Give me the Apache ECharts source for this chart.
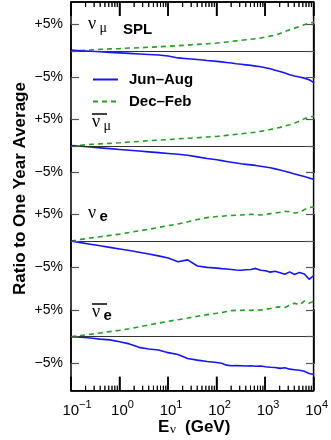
<!DOCTYPE html>
<html>
<head>
<meta charset="utf-8">
<script src="https://cdn.jsdelivr.net/npm/echarts@6/dist/echarts.min.js"></script>
<style>html,body{margin:0;padding:0;background:#fff}#chart{width:331px;height:440px}</style>
</head>
<body>
<div id="chart"></div>
<script>
// neutrino energy (GeV)
const energies = [0.1, 0.158, 0.251, 0.398, 0.631, 1, 1.585, 2.512, 3.981, 6.31, 10, 15.85, 25.12, 39.81, 63.1,
  100, 125.9, 158.5, 199.5, 251.2, 316.2, 398.1, 501.2, 631, 794.3, 1000, 1259, 1585, 1995, 2512, 3162, 3981, 5012, 6310, 7943, 10000];

// ratio to one year average (%), per flavour
const numuJun = [0.2, 0.05, -0.05, -0.15, -0.25, -0.35, -0.45, -0.55, -0.65, -0.75, -0.95, -1.3, -1.45, -1.6, -1.8,
  -1.95, -2.05, -2.15, -2.25, -2.4, -2.5, -2.6, -2.7, -2.85, -2.95, -3.15, -3.35, -3.6, -3.85, -4.15, -4.45, -4.7, -4.9, -5.1, -5.4, -5.95];
const numuDec = [0, 0.1, 0.2, 0.3, 0.4, 0.45, 0.55, 0.6, 0.7, 0.8, 0.9, 1.0, 1.1, 1.25, 1.35,
  1.5, 1.6, 1.7, 1.8, 1.9, 2.0, 2.1, 2.2, 2.3, 2.45, 2.6, 2.8, 3.0, 3.3, 3.65, 4.0, 4.3, 4.6, 4.95, 5.25, 5.4];
const numubarJun = [0.1, -0.05, -0.2, -0.35, -0.5, -0.65, -0.8, -0.95, -1.1, -1.25, -1.4, -1.55, -1.75, -2.05, -2.35,
  -2.6, -2.75, -2.9, -3.05, -3.2, -3.35, -3.45, -3.55, -3.65, -3.8, -3.95, -4.1, -4.3, -4.5, -4.75, -5.0, -5.25, -5.5, -5.75, -6.0, -6.3];
const numubarDec = [0, 0.15, 0.3, 0.4, 0.5, 0.6, 0.75, 0.85, 1.0, 1.1, 1.2, 1.35, 1.45, 1.55, 1.7,
  1.8, 1.9, 2.0, 2.1, 2.2, 2.3, 2.4, 2.5, 2.6, 2.75, 2.9, 3.1, 3.3, 3.5, 3.75, 4.0, 4.3, 4.7, 5.1, 5.45, 5.6];
const nueJun = [0, -0.3, -0.6, -0.9, -1.2, -1.5, -1.8, -2.1, -2.45, -2.8, -3.2, -3.9, -3.55, -4.7, -4.95,
  -5.1, -5.2, -5.25, -5.35, -5.45, -5.5, -5.4, -5.35, -5.15, -5.5, -5.6, -5.85, -5.7, -5.95, -6.25, -5.8, -6.3, -5.9, -6.2, -7.2, -6.45];
const nueDec = [0, 0.3, 0.55, 0.8, 1.05, 1.3, 1.6, 1.9, 2.2, 2.55, 2.9, 3.2, 3.6, 4.05, 4.4,
  4.6, 4.65, 4.75, 4.8, 4.85, 4.9, 4.95, 5.0, 4.95, 4.9, 5.0, 5.15, 5.25, 5.4, 5.6, 5.5, 5.25, 5.4, 5.9, 6.3, 6.4];
const nuebarJun = [0, -0.1, -0.25, -0.45, -0.6, -0.95, -1.35, -2.0, -2.3, -2.5, -3.0, -3.35, -4.1, -4.4, -4.65,
  -4.85, -5.0, -5.35, -5.45, -5.4, -5.45, -5.5, -5.45, -5.55, -5.5, -5.65, -5.75, -5.8, -5.95, -5.85, -6.1, -6.2, -6.3, -6.5, -6.9, -7.1];
const nuebarDec = [0, 0.2, 0.45, 0.7, 0.95, 1.2, 1.5, 1.85, 2.2, 2.55, 2.9, 3.2, 3.5, 3.85, 4.15,
  4.4, 4.55, 4.75, 4.9, 4.95, 4.95, 5.0, 4.95, 5.05, 5.0, 5.15, 5.3, 5.5, 5.6, 5.5, 5.9, 6.3, 6.0, 6.7, 6.3, 6.7];

const seasons = ['Jun–Aug', 'Dec–Feb'];
const decades = [0.1, 1, 10, 100, 1000, 10000];
const exponents = ['−1', '0', '1', '2', '3', '4'];

const panels = [[numuJun, numuDec], [numubarJun, numubarDec], [nueJun, nueDec], [nuebarJun, nuebarDec]];

const chart = echarts.init(document.getElementById('chart'));
const font = 'Liberation Sans';
const serif = 'Liberation Serif';
const pxPerPct = 5.32;
const zeros = [51, 146, 241, 336.7];
const frameTop = 2, frameBottom = 390.7;

const minors = [];
decades.slice(0, -1).forEach(d => { for (let k = 2; k < 10; k++) minors.push(d * k); });

function frameX(pos, labels) {
  return {
    gridIndex: 0, type: 'log', logBase: 10, min: 0.1, max: 10000, position: pos, z: 10,
    axisLine: {show: true, onZero: false, lineStyle: {color: '#000', width: 1.5}},
    axisTick: {show: true, inside: true, length: 14, lineStyle: {color: '#000', width: 1.5}},
    axisLabel: labels ? {
      show: true, margin: 9,
      formatter: v => {
        const e = exponents[decades.findIndex(d => Math.abs(d - v) / d < 1e-6)] || '';
        return '{' + (e.length > 1 ? 'w' : 'b') + '|10}{s|' + e + '}';
      },
      rich: {
        b: {fontFamily: font, fontSize: 15, color: '#000', padding: [0, 0, 0, 6]},
        w: {fontFamily: font, fontSize: 15, color: '#000', padding: [0, 0, 0, 12]},
        s: {fontFamily: font, fontSize: 11, color: '#000', padding: [0, 0, 11, 0]}
      }
    } : {show: false},
    splitLine: {show: false}
  };
}

const grids = [{left: 71, right: 17, top: frameTop, height: frameBottom - frameTop, show: true,
  borderColor: '#000', borderWidth: 1.5, backgroundColor: 'transparent'}];
const xAxes = [frameX('bottom', true), frameX('top', false)];
const yAxes = [{gridIndex: 0, type: 'value', min: 0, max: 1, show: false}];
const series = [];

// minor ticks of the log axis, bottom and top of the frame
[[0, -2.5], [1, 2.5]].forEach(([edge, off]) => {
  series.push({
    type: 'scatter', xAxisIndex: 0, yAxisIndex: 0, data: minors.map(d => [d, edge]), clip: false,
    symbol: 'rect', symbolSize: [1, 5], symbolOffset: [0, off], itemStyle: {color: '#000'}, z: 5
  });
});

// each panel: a grid spanning -5%..+5%, lines allowed to run beyond it
panels.forEach((p, i) => {
  grids.push({left: 71, right: 17, top: zeros[i] - 5 * pxPerPct, height: 10 * pxPerPct});
  xAxes.push({gridIndex: i + 1, type: 'log', logBase: 10, min: 0.1, max: 10000, show: false});
  const yCommon = {
    gridIndex: i + 1, type: 'value', min: -5, max: 5, interval: 5, z: 10,
    axisLine: {show: true, onZero: false, lineStyle: {color: '#000', width: 1.5}}, splitLine: {show: false},
    axisTick: {show: true, inside: true, length: 8, lineStyle: {color: '#555', width: 1.2}}
  };
  yAxes.push(Object.assign({}, yCommon, {
    position: 'left',
    axisLabel: {show: true, margin: 8, color: '#000', fontFamily: font, fontSize: 14,
      formatter: v => v > 0 ? '+5%' : v < 0 ? '−5%' : ''}
  }));
  yAxes.push(Object.assign({}, yCommon, {position: 'right', axisLabel: {show: false}}));
  const xi = 2 + i, yi = 1 + 2 * i;
  series.push({
    name: seasons[0], type: 'line', xAxisIndex: xi, yAxisIndex: yi, clip: false,
    data: energies.map((e, k) => [e, p[0][k]]),
    symbol: 'none', lineStyle: {color: '#1515ff', width: 1.6}, itemStyle: {color: '#1515ff'},
    markLine: {silent: true, symbol: ['none', 'none'], label: {show: false},
      lineStyle: {color: '#333', width: 1, type: 'solid'}, data: [{yAxis: 0}], animation: false},
    z: 3
  });
  series.push({
    name: seasons[1], type: 'line', xAxisIndex: xi, yAxisIndex: yi, clip: false,
    data: energies.map((e, k) => [e, p[1][k]]),
    symbol: 'none', lineStyle: {color: '#22a022', width: 1.6, type: [5, 4]}, itemStyle: {color: '#22a022'},
    z: 2
  });
});

function nuLabel(x, y, sub, subFont, bar) {
  const els = [
    {type: 'text', x: x, y: y, style: {text: 'ν', font: '18px ' + serif, fill: '#000', verticalAlign: 'middle'}},
    {type: 'text', x: x + 11.5, y: y + 4, style: {text: sub, font: subFont, fill: '#000', verticalAlign: 'middle'}}
  ];
  if (bar) els.push({type: 'line', shape: {x1: x, y1: y - 8, x2: x + 15, y2: y - 8}, style: {stroke: '#000', lineWidth: 1.5}});
  return els;
}

const graphics = [].concat(
  nuLabel(88, 24.5, 'μ', '14px ' + serif, false),
  nuLabel(92, 122, 'μ', '14px ' + serif, true),
  nuLabel(88, 213, 'e', 'bold 15px ' + font, false),
  nuLabel(92, 312, 'e', 'bold 15px ' + font, true),
  [
    {type: 'text', x: 123, y: 30, style: {text: 'SPL', font: 'bold 15px ' + font, fill: '#000', verticalAlign: 'middle'}},
    {type: 'text', x: 20, y: 188.5, rotation: Math.PI / 2,
      style: {text: 'Ratio to One Year Average', font: 'bold 17px ' + font, fill: '#000', align: 'center', verticalAlign: 'middle'}},
    {type: 'text', x: 158, y: 427, style: {text: 'E', font: 'bold 17px ' + font, fill: '#000', verticalAlign: 'middle'}},
    {type: 'text', x: 170, y: 430, style: {text: 'ν', font: '13px ' + serif, fill: '#000', verticalAlign: 'middle'}},
    {type: 'text', x: 185, y: 427, style: {text: '(GeV)', font: 'bold 17px ' + font, fill: '#000', verticalAlign: 'middle'}}
  ]
);

const option = {
  animation: false,
  grid: grids,
  xAxis: xAxes,
  yAxis: yAxes,
  legend: {
    orient: 'vertical', left: 87, top: 67, itemWidth: 25, itemHeight: 14, itemGap: 7,
    data: seasons, selectedMode: false, itemStyle: {opacity: 0},
    textStyle: {fontFamily: font, fontSize: 15, fontWeight: 'bold', color: '#000', padding: [0, 0, 0, 6]}
  },
  series: series,
  graphic: graphics
};
option && chart.setOption(option);

// backup tick marks, placed through the frame's x axis scale
try {
  const extra = [];
  const add = (x, y1, y2, w) => extra.push({type: 'line', silent: true, z: 20,
    shape: {x1: x, y1: y1, x2: x, y2: y2}, style: {stroke: '#000', lineWidth: w}});
  decades.forEach(d => {
    const x = chart.convertToPixel({xAxisIndex: 0}, d);
    if (isFinite(x)) { add(x, frameBottom, frameBottom - 14, 1.5); add(x, frameTop, frameTop + 14, 1.5); }
  });
  minors.forEach(d => {
    const x = chart.convertToPixel({xAxisIndex: 0}, d);
    if (isFinite(x)) { add(x, frameBottom, frameBottom - 5, 1); add(x, frameTop, frameTop + 5, 1); }
  });
  if (extra.length) chart.setOption({graphic: graphics.concat(extra)});
} catch (e) { /* native ticks remain */ }
</script>
</body>
</html>
